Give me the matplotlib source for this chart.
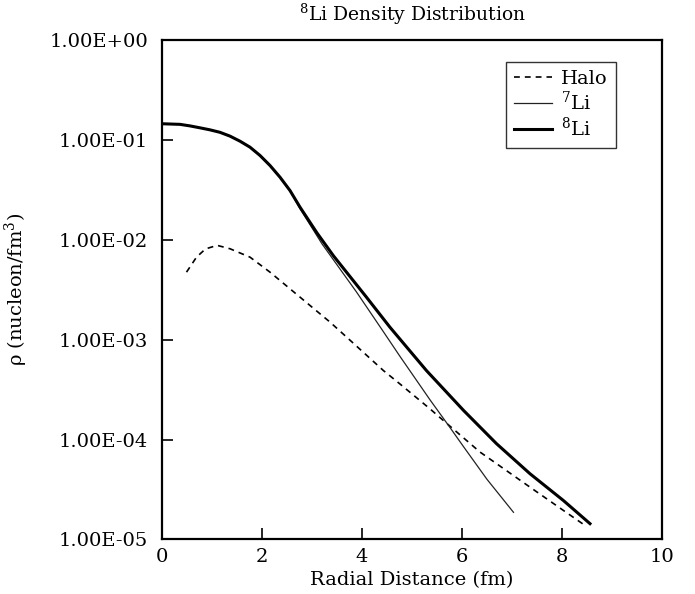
import numpy as np
import matplotlib
matplotlib.use("Agg")
import matplotlib.pyplot as plt

# values (r in fm, rho in nucleon/fm^3)
r_li8   = [0.0, 0.36, 0.56, 0.76, 0.96, 1.16, 1.36, 1.56, 1.76, 1.96, 2.16, 2.36, 2.56, 2.76, 3.1, 3.43, 4.09, 4.56, 5.29, 6.03, 6.69, 7.36, 8.03, 8.56]
rho_li8 = [0.145, 0.143, 0.138, 0.132, 0.126, 0.119, 0.109, 0.097, 0.0845, 0.0698, 0.0554, 0.0423, 0.0311, 0.0212, 0.0117, 0.0069, 0.00266, 0.00133, 0.00049, 0.000196, 9.1e-5, 4.55e-5, 2.45e-5, 1.44e-5]

r_li7   = [0.0, 0.36, 0.56, 0.76, 0.96, 1.16, 1.36, 1.56, 1.76, 1.96, 2.16, 2.36, 2.56, 2.76, 3.2, 3.56, 3.89, 4.4, 4.76, 5.36, 5.76, 6.03, 6.5, 7.03]
rho_li7 = [0.145, 0.143, 0.138, 0.132, 0.126, 0.119, 0.109, 0.097, 0.0845, 0.0698, 0.0554, 0.0423, 0.0311, 0.0205, 0.0091, 0.0051, 0.0030, 0.00126, 0.00068, 0.00025, 0.000132, 8.5e-5, 4.0e-5, 1.87e-5]

r_halo   = [0.49, 0.69, 0.87, 1.03, 1.1, 1.36, 1.76, 2.16, 2.56, 2.96, 3.36, 3.73, 4.43, 4.76, 5.36, 5.56, 6.36, 7.36, 8.03, 8.49]
rho_halo = [0.00474, 0.0067, 0.0081, 0.00857, 0.0088, 0.00813, 0.0067, 0.00474, 0.00323, 0.0022, 0.0015, 0.00102, 0.00049, 0.00036, 0.000203, 0.000166, 7.5e-5, 3.34e-5, 1.95e-5, 1.35e-5]

ytick_vals   = [1e0, 1e-1, 1e-2, 1e-3, 1e-4, 1e-5]
ytick_labels = ["1.00E+00", "1.00E-01", "1.00E-02", "1.00E-03", "1.00E-04", "1.00E-05"]
xtick_vals   = [0, 2, 4, 6, 8, 10]

plt.rcParams['font.family'] = ['DejaVu Serif']
plt.rcParams['mathtext.fontset'] = 'dejavuserif'

fig = plt.figure(figsize=(6.95, 5.94), dpi=100)
ax = fig.add_axes([0.2331, 0.0918, 0.7194, 0.8409])

ax.plot(r_halo, rho_halo, color='black', lw=1.2, ls=(0, (3.5, 3)), label='Halo')
ax.plot(r_li7, rho_li7, color='#222222', lw=0.9, label=r'$^{7}$Li')
ax.plot(r_li8, rho_li8, color='black', lw=2.2, label=r'$^{8}$Li')

ax.set_yscale('log')
ax.set_xlim(0, 10)
ax.set_ylim(1e-5, 1e0)
ax.set_yticks(ytick_vals)
ax.set_yticklabels(ytick_labels)
ax.set_xticks(xtick_vals)
ax.minorticks_off()
ax.tick_params(axis='both', direction='in', length=8, width=1.2, labelsize=14)
ax.tick_params(axis='y', pad=10)
ax.tick_params(axis='x', pad=6)
for s in ax.spines.values():
    s.set_linewidth(1.6)

ax.set_title(r'$^{8}$Li Density Distribution', fontsize=13.5, pad=14)
ax.set_xlabel('Radial Distance (fm)', fontsize=14, labelpad=4)
ax.set_ylabel(r'ρ (nucleon/fm$^{3}$)', fontsize=14, labelpad=14)

leg = ax.legend(loc='upper left', bbox_to_anchor=(506 / 695, 1 - 62 / 594),
                bbox_transform=fig.transFigure, borderaxespad=0, fontsize=14,
                frameon=True, fancybox=False, edgecolor='black',
                handlelength=1.95, handletextpad=0.5, labelspacing=0.15,
                borderpad=0.4)
leg.get_frame().set_linewidth(1.0)

fig.savefig('out.png', dpi=100)
